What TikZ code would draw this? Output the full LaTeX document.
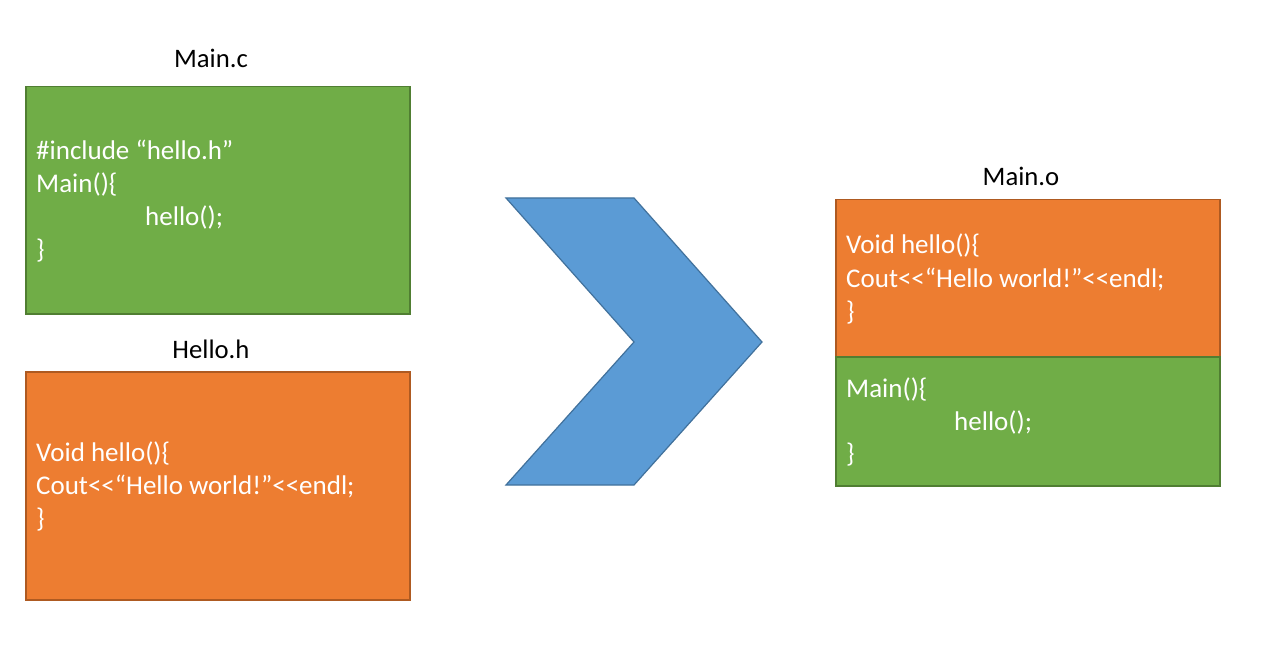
\documentclass[tikz,border=0pt]{standalone}
\usepackage{fontspec}
\setmainfont{Carlito}[Ligatures=ResetAll]
\definecolor{gfill}{HTML}{70AD47}
\definecolor{gline}{HTML}{507E32}
\definecolor{ofill}{HTML}{ED7D31}
\definecolor{oline}{HTML}{AE5A21}
\definecolor{bfill}{HTML}{5B9BD5}
\definecolor{bline}{HTML}{41719C}
\begin{document}
\begin{tikzpicture}[x=1pt,y=-1pt,
  gbox/.style={draw=gline,fill=gfill,line width=1.5pt,rectangle,inner sep=0pt,anchor=north west},
  obox/.style={draw=oline,fill=ofill,line width=1.5pt,rectangle,inner sep=0pt,anchor=north west},
  code/.style={text=white,font=\fontsize{27}{32}\selectfont,inner sep=0pt,anchor=base west},
  ttl/.style={text=black,font=\fontsize{26.7}{32}\selectfont,inner sep=0pt,anchor=base}]
\useasboundingbox[fill=white] (0,0) rectangle (1266,655);
% Main.c
\node[ttl] (tmainc) at (211,68) {Main.c};
\node[gbox,minimum width=384,minimum height=227] (mainc) at (25,86) {};
\node[code] (c1) at (36,160) {\#include “hello.h”};
\node[code] (c2) at (36,193) {Main()\{};
\node[code] (c3) at (145,225.5) {hello();};
\node[code] (c4) at (36,258.5) {\}};
% Hello.h
\node[ttl] (thelloh) at (211,358) {Hello.h};
\node[obox,minimum width=384,minimum height=228] (helloh) at (25,371) {};
\node[code] (h1) at (36,461.5) {Void hello()\{};
\node[code] (h2) at (36,494.5) {Cout<{}<“Hello world!”<{}<endl;};
\node[code] (h3) at (36,527.5) {\}};
% chevron
\draw[draw=bline,fill=bfill,line width=1.2pt,line join=miter]
  (506,198) -- (634,198) -- (762,342) -- (634,485) -- (506,485) -- (634,342) -- cycle;
% Main.o
\node[ttl] (tmaino) at (1021,186) {Main.o};
\node[obox,minimum width=384,minimum height=157] (maino1) at (835,199) {};
\node[gbox,minimum width=384,minimum height=129] (maino2) at (835,356) {};
\node[code] (o1) at (846,253.5) {Void hello()\{};
\node[code] (o2) at (846,287) {Cout<{}<“Hello world!”<{}<endl;};
\node[code] (o3) at (846,320) {\}};
\node[code] (o4) at (846,397.5) {Main()\{};
\node[code] (o5) at (954,430) {hello();};
\node[code] (o6) at (846,462.5) {\}};
\end{tikzpicture}
\end{document}
